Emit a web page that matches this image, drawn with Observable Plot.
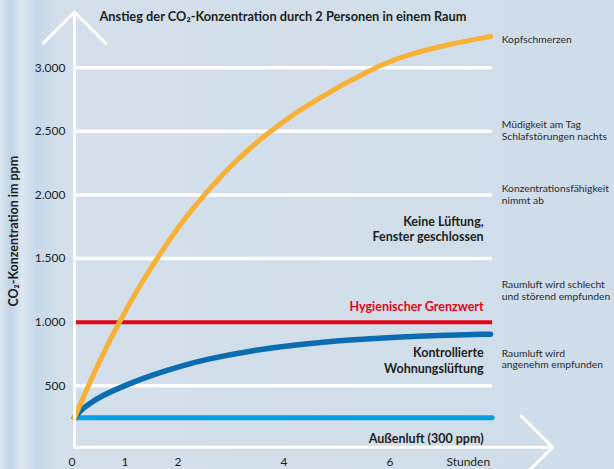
<!DOCTYPE html>
<html>
<head>
<meta charset="utf-8">
<script src="https://cdn.jsdelivr.net/npm/d3@7"></script>
<script src="https://cdn.jsdelivr.net/npm/@observablehq/plot@0.6"></script>
<style>
  html, body { margin: 0; padding: 0; background: #d0deea; }
</style>
</head>
<body>
<div id="chart"></div>
<script>
// ---- data ----
const title = "Anstieg der CO₂-Konzentration durch 2 Personen in einem Raum";
const yLabel = "CO₂-Konzentration im ppm";
const xUnit = "Stunden";

const xTicks = [0, 1, 2, 4, 6];
const yGrid = [500, 1500, 2000, 2500, 3000];
const yTicks = [500, 1000, 1500, 2000, 2500, 3000];
const limit = 1000;          // Hygienischer Grenzwert
const outdoor = 250;         // Außenluft line as drawn

const noVentHours = [0, 0.26, 0.5, 0.84, 1.2, 1.56, 2, 2.44, 3, 3.67, 4.5, 5.65, 6.2, 7, 7.85];
const noVentPpm   = [250, 500, 720, 1000, 1265, 1505, 1775, 2000, 2255, 2500, 2740, 3000, 3090, 3180, 3245];

const ventHours = [0, 0.12, 0.25, 0.5, 1, 1.5, 2, 2.5, 3.3, 4.2, 5.2, 6.2, 7, 7.85];
const ventPpm   = [250, 310, 352, 420, 512, 590, 655, 710, 775, 825, 862, 886, 899, 906];

const effectTexts = [
  "Kopfschmerzen",
  "Müdigkeit am Tag\nSchlafstörungen nachts",
  "Konzentrationsfähigkeit\nnimmt ab",
  "Raumluft wird schlecht\nund störend empfunden",
  "Raumluft wird\nangenehm empfunden"
];
const effectLevels = [3221, 2509, 2007, 1252, 711];

const seriesLabels = ["Keine Lüftung,\nFenster geschlossen", "Kontrollierte\nWohnungslüftung", "Außenluft (300 ppm)"];
const seriesLabelLevels = [1733, 703, 92];
const limitLabel = "Hygienischer Grenzwert";
const limitLabelLevel = 1118;

// ---- build tables ----
const noVent = noVentHours.map((h, i) => ({h, ppm: noVentPpm[i]}));
const vent = ventHours.map((h, i) => ({h, ppm: ventPpm[i]}));
const effects = effectTexts.map((t, i) => ({t, y: effectLevels[i]}));
const sLabels = seriesLabels.map((t, i) => ({t, y: seriesLabelLevels[i]}));

const de = d3.formatLocale({decimal: ",", thousands: ".", grouping: [3], currency: ["", " €"]});
const fmt = de.format(",");

const X_END = 7.89;
const LABEL_X = 7.72;
const EFFECT_X = 8.06;
const dark = "#1d1d1b";

const chart = Plot.plot({
  width: 614,
  height: 469,
  marginLeft: 74,
  marginRight: 116,
  marginTop: 29,
  marginBottom: 20,
  style: {
    fontFamily: "Lato, 'Open Sans', sans-serif",
    background: "linear-gradient(90deg, #dbe6f0 0px, #c0d4e9 10px, #dde7f0 22px, #c6d8ea 36px, #d3e0eb 60px, #cfddea 100%)",
    overflow: "visible"
  },
  x: {domain: [0, 8]},
  y: {domain: [0, 3300]},
  marks: [
    // white grid lines
    Plot.ruleY(yGrid, {x1: 0, x2: X_END, stroke: "white", strokeWidth: 3.5}),
    // outdoor air
    Plot.ruleY([outdoor], {x1: 0, x2: X_END, stroke: "#069fe0", strokeWidth: 5, strokeLinecap: "round"}),
    // hygienic limit
    Plot.ruleY([limit], {x1: 0, x2: X_END, stroke: "#e30618", strokeWidth: 4}),
    // controlled ventilation
    Plot.line(vent, {x: "h", y: "ppm", stroke: "#0b6cb2", strokeWidth: 5.5, curve: "basis", strokeLinecap: "round"}),
    // no ventilation
    Plot.line(noVent, {x: "h", y: "ppm", stroke: "#f8b134", strokeWidth: 5, curve: "basis", strokeLinecap: "round"}),
    // axes as white arrows
    Plot.arrow([{x1: 0, y1: 18, x2: 0, y2: 3437}], {x1: "x1", y1: "y1", x2: "x2", y2: "y2", stroke: "white", strokeWidth: 3, headAngle: 90, headLength: 22}),
    Plot.arrow([{x1: 0, y1: 18, x2: 9.02, y2: 18}], {x1: "x1", y1: "y1", x2: "x2", y2: "y2", stroke: "white", strokeWidth: 3, headAngle: 90, headLength: 22}),
    // tick labels
    Plot.axisY({ticks: yTicks, tickSize: 0, tickPadding: 9, tickFormat: fmt, fontSize: 12, fill: dark, label: null}),
    Plot.axisX({ticks: xTicks, tickSize: 0, tickPadding: 8, dx: -2.5, fontSize: 12, fill: dark, label: null}),
    Plot.text([xUnit], {x: 7.43, frameAnchor: "bottom", lineAnchor: "top", dy: 8, fontSize: 12, fill: dark}),
    // y label
    Plot.text([yLabel], {y: 1715, frameAnchor: "left", textAnchor: "middle", dx: -60.5, rotate: -90, fontSize: 12.5, fontWeight: "bold", fill: dark}),
    // title
    Plot.text([title], {x: 0.47, y: 3400, textAnchor: "start", fontSize: 12.8, fontWeight: "bold", fill: dark}),
    // effect annotations on the right
    Plot.text(effects, {x: EFFECT_X, y: "y", text: "t", textAnchor: "start", fontSize: 10.3, lineHeight: 1.12, fill: "#2b2b2b"}),
    // series labels
    Plot.text(sLabels, {x: LABEL_X, y: "y", text: "t", textAnchor: "end", fontSize: 12.5, lineHeight: 1.22, fontWeight: "bold", fill: dark}),
    Plot.text([limitLabel], {x: LABEL_X, y: limitLabelLevel, textAnchor: "end", fontSize: 12.5, fontWeight: "bold", fill: "#e30618"})
  ]
});
document.getElementById("chart").appendChild(chart);
</script>
</body>
</html>
